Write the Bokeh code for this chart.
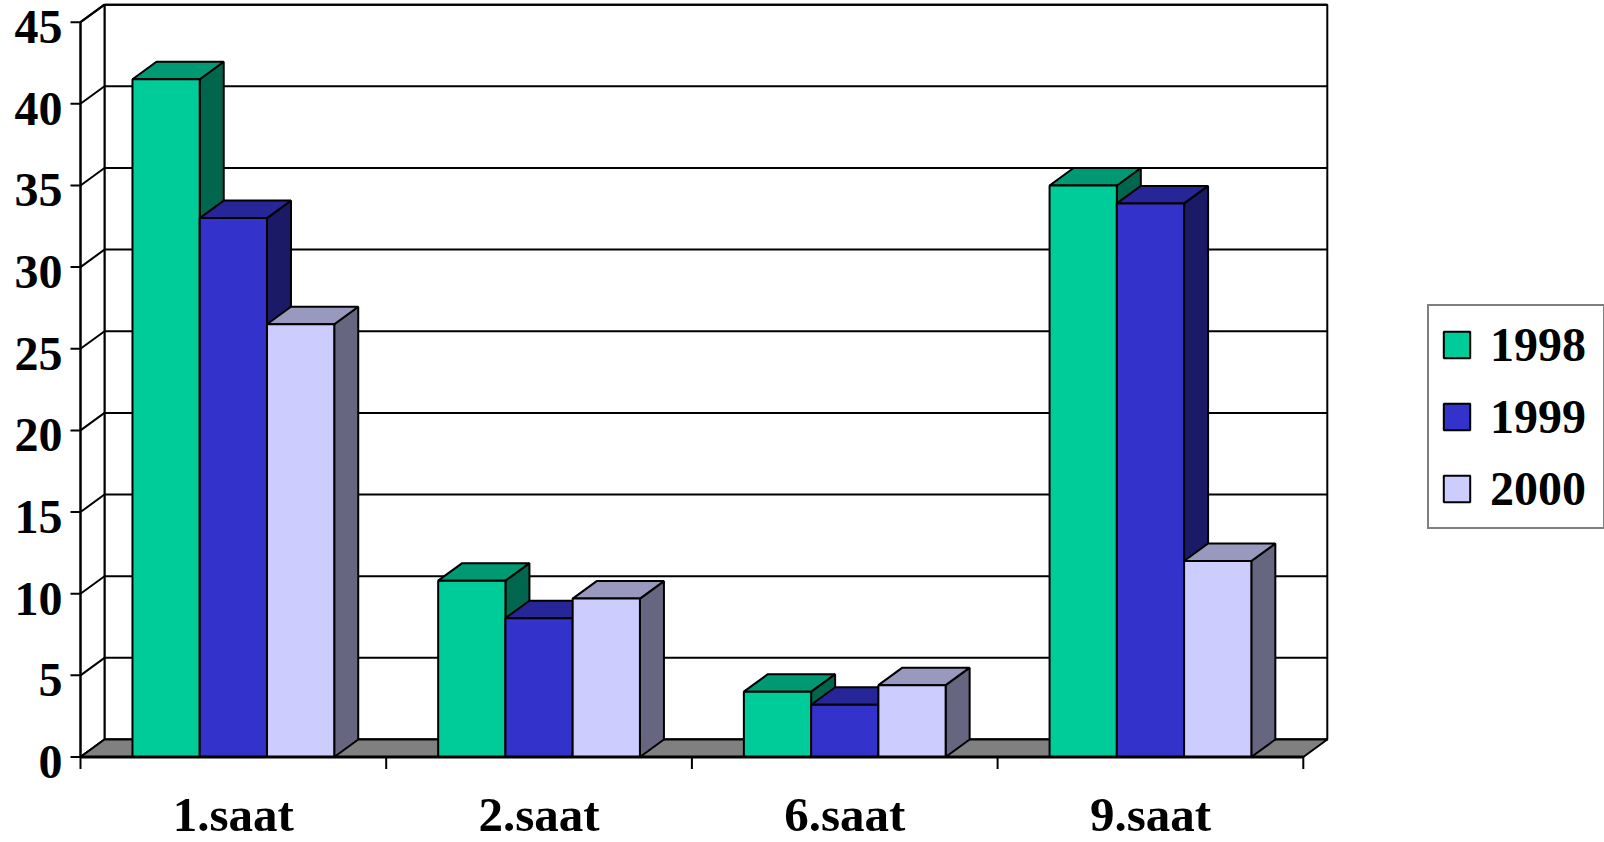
from bokeh.plotting import figure
from bokeh.models import Range1d, Legend, LegendItem
from bokeh.embed import file_html
from bokeh.resources import INLINE
from bokeh.core.properties import value

# ---- data ----
categories = ["1.saat", "2.saat", "6.saat", "9.saat"]
series = ["1998", "1999", "2000"]
v1998 = [41.5, 10.8, 4.0, 35.0]
v1999 = [33.0, 8.5, 3.2, 33.9]
v2000 = [26.5, 9.7, 4.4, 12.0]
values = [v1998, v1999, v2000]
y_ticks = [0, 5, 10, 15, 20, 25, 30, 35, 40, 45]

# ---- style ----
face_col = ["#00CC99", "#3333CC", "#CCCCFF"]
top_col = ["#009973", "#262699", "#9999BF"]
side_col = ["#00664D", "#1A1A66", "#666680"]
FONT = "Liberation Serif"

W, H = 1604, 842
LEFT = 80           # pixel column of the front value axis
ZERO = 756.5        # pixel row of value 0
CW = 305.7          # px per category
U = 16.33           # px per value unit
DX = 24.0 / CW      # depth offset (x, in category units)
DY = 17.5 / U       # depth offset (y, in value units)
BW = 0.22           # bar width
n = len(categories)
YMAX = y_ticks[-1]

p = figure(width=W, height=H,
           x_range=Range1d(-LEFT / CW, (W - LEFT) / CW),
           y_range=Range1d(-(H - ZERO) / U, ZERO / U),
           output_backend="svg", toolbar_location=None,
           x_axis_location=None, y_axis_location=None,
           min_border_left=0, min_border_right=0,
           min_border_top=0, min_border_bottom=0,
           outline_line_color=None, background_fill_color="white")
p.grid.visible = False

# walls
p.patch([DX, n + DX, n + DX, DX], [DY, DY, YMAX + DY, YMAX + DY],
        fill_color="white", line_color="black", line_width=2)
p.patch([0, DX, DX, 0], [0, DY, YMAX + DY, YMAX],
        fill_color="white", line_color="black", line_width=2)
# gridlines on back wall and left wall
p.segment(x0=[DX] * len(y_ticks), y0=[t + DY for t in y_ticks],
          x1=[n + DX] * len(y_ticks), y1=[t + DY for t in y_ticks],
          line_color="black", line_width=2)
p.segment(x0=[0] * len(y_ticks), y0=y_ticks,
          x1=[DX] * len(y_ticks), y1=[t + DY for t in y_ticks],
          line_color="black", line_width=2)
# floor
p.patch([0, n, n + DX, DX], [0, 0, DY, DY],
        fill_color="#808080", line_color="black", line_width=2)

# bars
legend_items = []
for k, vals in enumerate(values):
    x0 = [i + 0.5 - 1.5 * BW + k * BW for i in range(n)]
    x1 = [a + BW for a in x0]
    side_xs = [[b, b + DX, b + DX, b] for b in x1]
    side_ys = [[0, DY, v + DY, v] for v in vals]
    top_xs = [[a, b, b + DX, a + DX] for a, b in zip(x0, x1)]
    top_ys = [[v, v, v + DY, v + DY] for v in vals]
    p.patches(side_xs, side_ys, fill_color=side_col[k], line_color="black", line_width=2)
    p.patches(top_xs, top_ys, fill_color=top_col[k], line_color="black", line_width=2)
    r = p.quad(left=x0, right=x1, bottom=0, top=vals,
               fill_color=face_col[k], line_color="black", line_width=2)
    legend_items.append(LegendItem(label=series[k], renderers=[r]))

# front value axis: line, ticks, labels
p.segment(x0=[0], y0=[0], x1=[0], y1=[YMAX], line_color="black", line_width=2)
p.segment(x0=[-10 / CW] * len(y_ticks), y0=y_ticks, x1=[0] * len(y_ticks), y1=y_ticks,
          line_color="black", line_width=2)
p.text(x=[-18 / CW] * len(y_ticks), y=[t - 5 / U for t in y_ticks],
       text=[str(t) for t in y_ticks],
       text_font=value(FONT), text_font_style="bold", text_font_size="48px",
       text_align="right", text_baseline="middle", text_color="black")

# front category axis: line, boundary ticks, labels
bounds = list(range(n + 1))
p.segment(x0=[0], y0=[0], x1=[n], y1=[0], line_color="black", line_width=3)
p.segment(x0=bounds, y0=[0] * len(bounds), x1=bounds, y1=[-12 / U] * len(bounds),
          line_color="black", line_width=2)
p.text(x=[i + 0.5 for i in range(n)], y=[-(813.5 - ZERO) / U] * n, text=categories,
       text_font=value(FONT), text_font_style="bold", text_font_size="49px",
       text_align="center", text_baseline="middle", text_color="black")

legend = Legend(items=legend_items, location=(1427, 313),
                border_line_color="black", border_line_width=2,
                background_fill_color="white", background_fill_alpha=1.0,
                label_text_font=FONT, label_text_font_style="bold",
                label_text_font_size="48px", label_text_color="black",
                glyph_width=33, glyph_height=33, label_standoff=17,
                label_width=102, padding=11, spacing=17, margin=0)
p.add_layout(legend)

open("out.html", "w").write(file_html(p, INLINE))
